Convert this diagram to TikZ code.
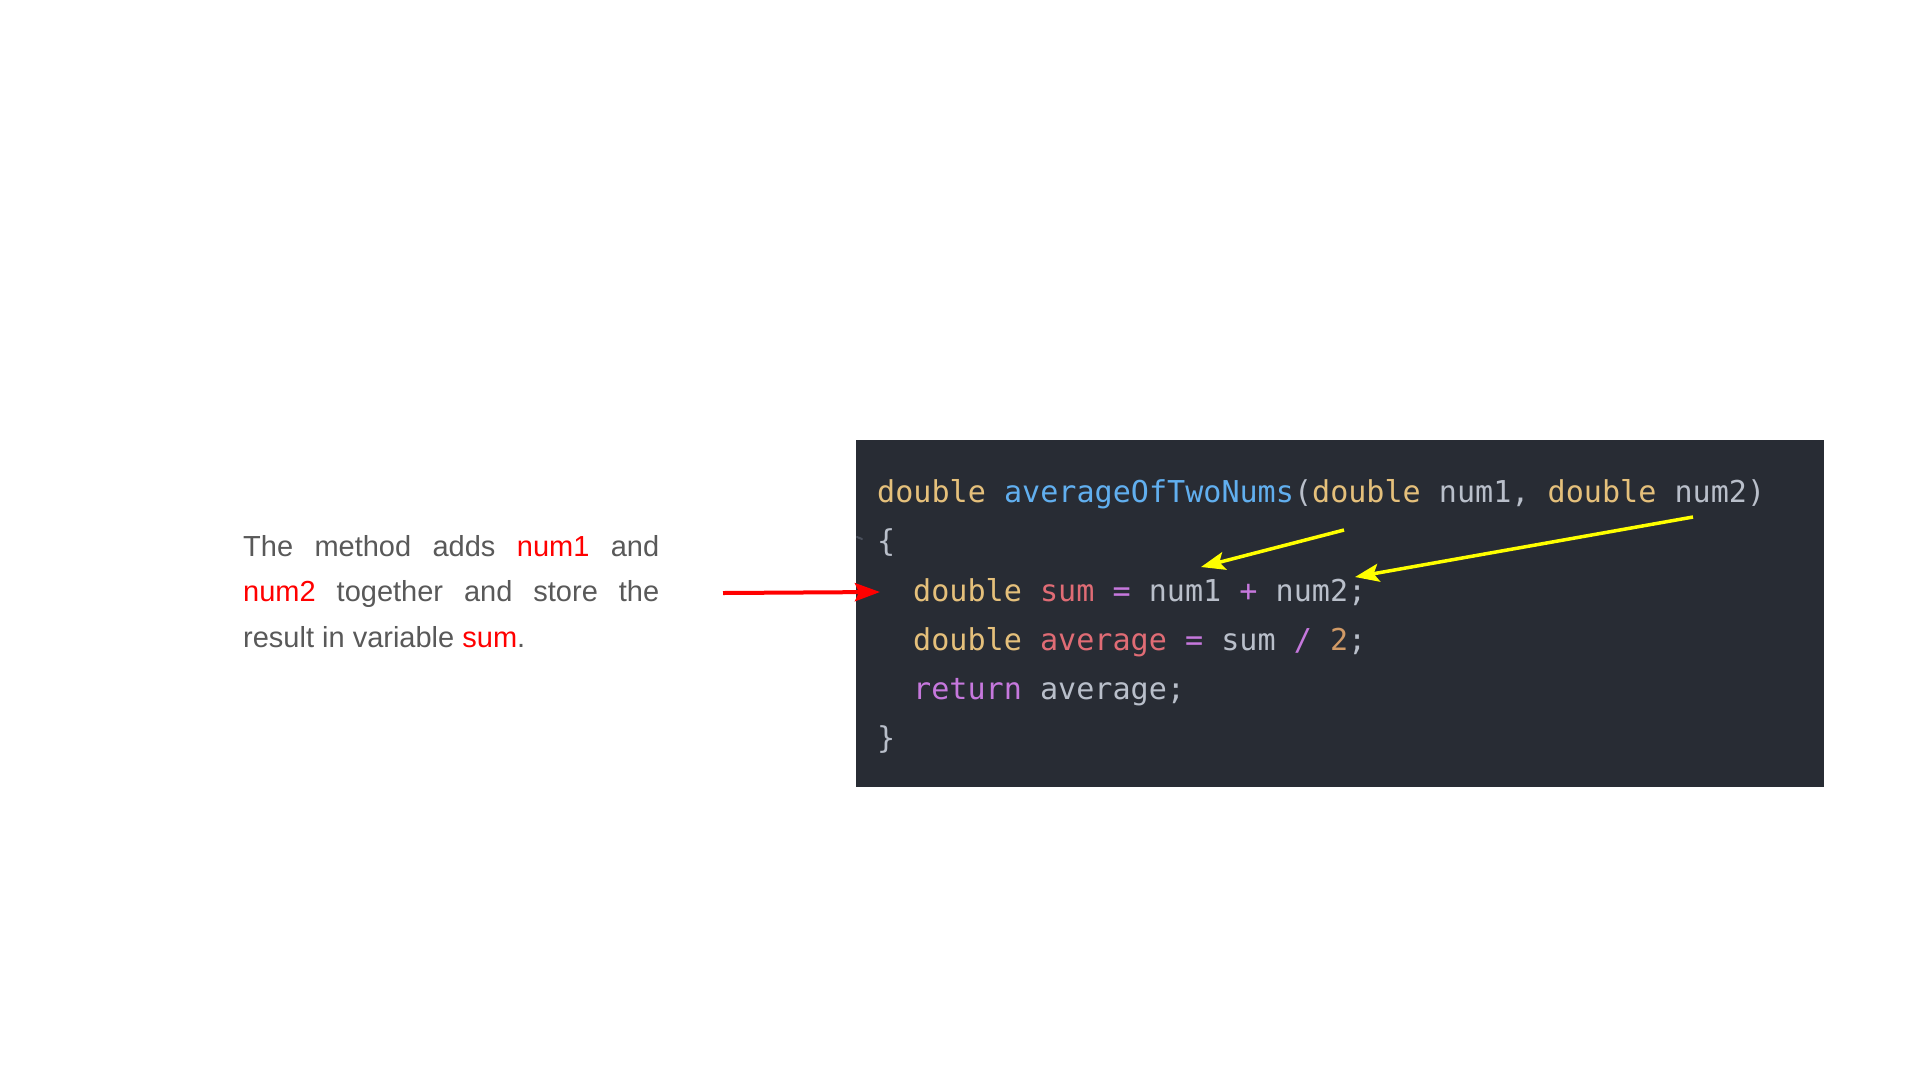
\documentclass[tikz,border=0pt]{standalone}
\usepackage{fontspec}
\setmainfont{Liberation Sans}
\setmonofont{DejaVu Sans Mono}
\usetikzlibrary{arrows.meta}
\definecolor{codebg}{HTML}{282C34}
\definecolor{cKey}{HTML}{E5C07B}
\definecolor{cFun}{HTML}{61AFEF}
\definecolor{cId}{HTML}{B9BFCA}
\definecolor{cVar}{HTML}{E06C75}
\definecolor{cOp}{HTML}{C678DD}
\definecolor{cNum}{HTML}{D19A66}
\definecolor{txtgray}{HTML}{595959}
\definecolor{hlred}{HTML}{FF0000}
\definecolor{hlyellow}{HTML}{FFFF00}
\definecolor{foldgray}{HTML}{4A505C}
\tikzset{
  codeline/.style={anchor=base west, inner sep=0pt, text=cId,
    font=\ttfamily\fontsize{30.1}{31}\selectfont},
  proseline/.style={anchor=base west, inner sep=0pt, text=txtgray,
    font=\fontsize{29}{34}\selectfont},
  redarrow/.style={draw=hlred, line width=4pt,
    -{Stealth[length=25pt,width=18pt,inset=4pt]}},
  yellowarrow/.style={draw=hlyellow, line width=3.5pt,
    -{Stealth[length=24pt,width=18pt,inset=5pt]}}
}
\begin{document}
\begin{tikzpicture}[x=1pt,y=-1pt]
\useasboundingbox[fill=white] (0,0) rectangle (1920,1080);
% code panel
\fill[codebg] (856,440) rectangle (1824,787);
\draw[foldgray, line width=2pt, line cap=round] (857,537) -- (862,539);
\node[codeline] (c1) at (877,502) {\textcolor{cKey}{double} \textcolor{cFun}{averageOfTwoNums}(\textcolor{cKey}{double} num1, \textcolor{cKey}{double} num2)};
\node[codeline] (c2) at (877,551) {\{};
\node[codeline] (c3) at (913,601) {\textcolor{cKey}{double} \textcolor{cVar}{sum} \textcolor{cOp}{=} num1 \textcolor{cOp}{+} num2;};
\node[codeline] (c4) at (913,650) {\textcolor{cKey}{double} \textcolor{cVar}{average} \textcolor{cOp}{=} sum \textcolor{cOp}{/} \textcolor{cNum}{2};};
\node[codeline] (c5) at (913,699) {\textcolor{cOp}{return} average;};
\node[codeline] (c6) at (877,748) {\}};
% prose
\node[proseline] (p1) at (243,556) {\makebox[416pt][s]{The method adds \textcolor{hlred}{num1} and}};
\node[proseline] (p2) at (243,601.5) {\makebox[416pt][s]{\textcolor{hlred}{num2} together and store the}};
\node[proseline] (p3) at (243,647) {result in variable \textcolor{hlred}{sum}.};
% arrows
\coordinate (rt) at (723,593);
\coordinate (rh) at (880,592);
\draw[redarrow] (rt) -- (rh);
\coordinate (y1t) at (1344,530);
\coordinate (y1h) at (1201,567);
\draw[yellowarrow] (y1t) -- (y1h);
\coordinate (y2t) at (1693,517);
\coordinate (y2h) at (1355,577);
\draw[yellowarrow] (y2t) -- (y2h);
\end{tikzpicture}
\end{document}
